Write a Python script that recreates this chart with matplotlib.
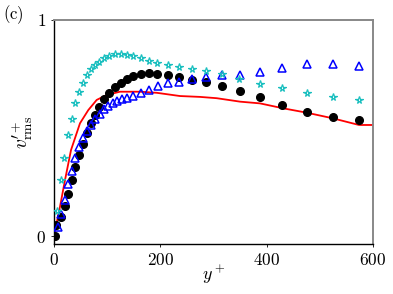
import numpy as np
import matplotlib
matplotlib.use("Agg")
import matplotlib.pyplot as plt

plt.rcParams['mathtext.fontset'] = 'cm'
plt.rcParams['font.family'] = 'serif'
plt.rcParams['font.serif'] = ['DejaVu Serif']

# black circles
yp_dns = [1, 4.7, 14, 20.7, 26.9, 33.3, 39.5, 47.0, 54.0, 61.5, 69.0, 77.1, 85.2, 94.0,
          104.0, 114.7, 125.4, 136.7, 149.2, 163.1, 178.7, 194.3, 215.0, 235.7, 259.0,
          285.9, 315.4, 349.8, 388.4, 429.4, 475.3, 524.2, 573.7]
v_dns = [0.0, 0.053, 0.086, 0.139, 0.194, 0.259, 0.321, 0.375, 0.426, 0.477, 0.522, 0.560,
         0.599, 0.633, 0.663, 0.688, 0.710, 0.727, 0.741, 0.749, 0.753, 0.749, 0.745, 0.735,
         0.724, 0.712, 0.696, 0.673, 0.642, 0.606, 0.574, 0.552, 0.537]

# cyan stars
yp_star = [6.2, 13.2, 19.4, 25.8, 33.3, 39.5, 47.0, 54.0, 61.5, 69.0, 77.1, 85.2, 94.0,
           104.0, 114.7, 125.4, 136.7, 149.2, 163.1, 178.7, 194.3, 215.0, 235.7, 259.0,
           285.9, 315.4, 348.5, 388.4, 429.4, 475.3, 524.2, 573.7]
v_star = [0.116, 0.259, 0.360, 0.466, 0.542, 0.614, 0.665, 0.710, 0.745, 0.772, 0.792, 0.807,
          0.823, 0.833, 0.841, 0.843, 0.839, 0.833, 0.823, 0.812, 0.800, 0.792, 0.781, 0.773,
          0.764, 0.749, 0.725, 0.704, 0.684, 0.663, 0.642, 0.631]

# blue triangles
yp_tri = [7.5, 13.2, 20.7, 26.9, 33.3, 39.5, 47.0, 54.0, 61.5, 69.0, 77.1, 85.6, 94.0,
          102.1, 110.4, 118.5, 127.9, 138.2, 149.5, 163.6, 179.2, 196.2, 215.0, 236.0,
          259.0, 285.9, 315.4, 349.8, 388.0, 429.4, 475.3, 524.2, 573.7]
v_tri = [0.044, 0.102, 0.167, 0.239, 0.301, 0.361, 0.413, 0.456, 0.486, 0.514, 0.542, 0.567,
         0.589, 0.604, 0.616, 0.627, 0.634, 0.641, 0.650, 0.661, 0.676, 0.694, 0.710, 0.715,
         0.727, 0.735, 0.747, 0.747, 0.758, 0.776, 0.795, 0.795, 0.787]

# red line
yp_line = [0, 11.3, 20.7, 32, 48.9, 64.5, 80.3, 99.1, 124.1, 161.8, 193.2, 237, 274.6,
           306, 350, 387.5, 431.3, 475.3, 524.2, 573.7, 600]
v_line = [0, 0.136, 0.259, 0.398, 0.522, 0.583, 0.630, 0.653, 0.668, 0.668, 0.663, 0.648,
          0.644, 0.638, 0.622, 0.614, 0.591, 0.571, 0.545, 0.514, 0.514]

fig = plt.figure(figsize=(3.93, 2.94), dpi=100)
ax = fig.add_axes([0.1374, 0.170, 0.8117, 0.762])

ax.plot(yp_line, v_line, color='r', lw=1.3, zorder=2)
ax.plot(yp_dns, v_dns, 'o', color='k', ms=5.5, zorder=3)
ax.plot(yp_tri, v_tri, '^', mfc='none', mec='b', mew=1.1, ms=5.5, zorder=4)
ax.plot(yp_star, v_star, '*', mfc='none', mec='#1ABFBF', mew=0.9, ms=5.5, zorder=5)

ax.set_xlim(0, 600)
ax.set_ylim(-0.037, 1)
ax.set_xticks([0, 200, 400, 600])
ax.set_xticklabels(['$0$', '$200$', '$400$', '$600$'])
ax.set_yticks([0, 1])
ax.set_yticklabels(['$0$', '$1$'])
ax.tick_params(direction='out', length=2.5, width=0.6, labelsize=12.5, pad=3)

for s in ['left', 'bottom']:
    ax.spines[s].set_color('k')
    ax.spines[s].set_linewidth(1.0)
for s in ['top', 'right']:
    ax.spines[s].set_color('#888888')
    ax.spines[s].set_linewidth(1.4)

ax.set_xlabel('$y^+$', fontsize=13, labelpad=-4)
ax.set_ylabel(r'$v^{\prime +}_{\mathrm{rms}}$', fontsize=14, labelpad=1)
fig.text(0.008, 0.935, r'$\mathrm{(c)}$', fontsize=12)

fig.savefig('out.png', dpi=100)
